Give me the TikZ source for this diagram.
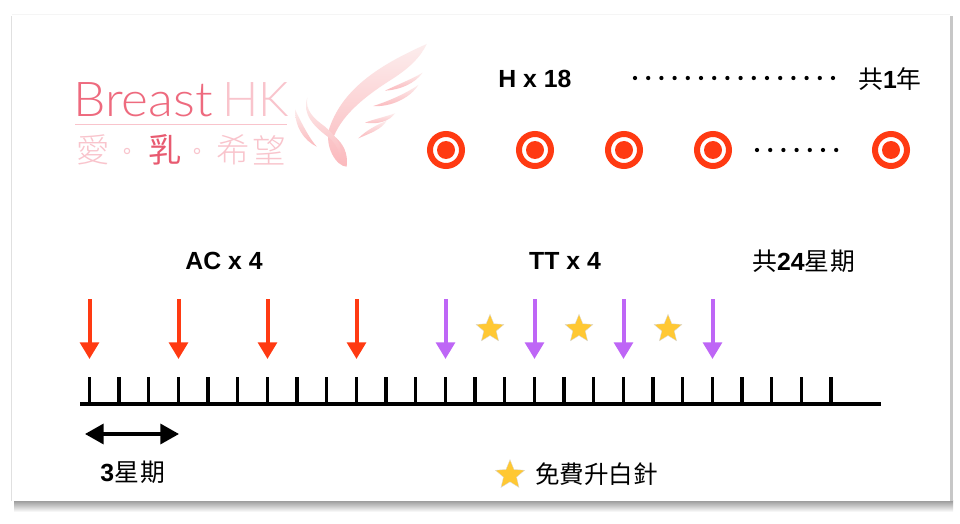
\documentclass[tikz,border=0pt]{standalone}
\usepackage{fontspec}
\setmainfont{Liberation Sans}
\newfontfamily\cjk{Noto Sans CJK TC}
\newfontfamily\cjkthin{Noto Sans CJK TC Light}
\newfontfamily\thinlat{Lato Light}
\usetikzlibrary{arrows.meta,shapes.geometric,calc}
\definecolor{redA}{HTML}{FF3A12}
\definecolor{purpA}{HTML}{BE66F6}
\definecolor{starA}{HTML}{FFC833}
\definecolor{pinkA}{HTML}{EE6A7E}
\definecolor{pinkB}{HTML}{F9C4CC}
\definecolor{pinkC}{HTML}{E85A70}
\definecolor{wingA}{HTML}{FCEDED}
\definecolor{wingB}{HTML}{FBB9BD}
\tikzset{
 lab/.style={inner sep=0pt,font=\bfseries\fontsize{18.6}{18.6}\selectfont},
 cjklab/.style={inner sep=0pt,font=\fontsize{18}{18}\selectfont},
 tick/.style={line width=2.5pt},
 redarrow/.style={draw=redA,line width=3pt,-{Triangle[width=14pt,length=12.5pt]}},
 purparrow/.style={redarrow,draw=purpA},
 starmark/.style={star,star points=5,star point ratio=2.25,fill=starA,draw=black!15,line width=.25pt,minimum size=22pt,inner sep=0pt},
 logocjk/.style={inner sep=0pt,text=pinkB,font=\cjkthin\fontsize{25}{25}\selectfont},
 wingfill/.style={top color=wingA,bottom color=wingB,draw=none},
 target/.style={circle,draw=redA,fill=white,line width=4.5pt,minimum size=24pt,inner sep=0pt},
 dotmark/.style={circle,fill=black,minimum size=3.2pt,inner sep=0pt},
}
\begin{document}
\begin{tikzpicture}[x=.75pt,y=-.75pt]
\useasboundingbox (0,0) rectangle (960,524);
% page and shadow
\shade[top color=black!42,bottom color=white] (14,500) rectangle (953,512);
\fill[black!22] (950,16) rectangle (953,501);
\fill[black!12] (11,16) rectangle (13,501);
\fill[white] (12,14) rectangle (950,501);
\draw[black!4,line width=.4pt] (12,14) -- (950,14);
% logo
\node[anchor=base west,inner sep=0pt,text=pinkA,xscale=1.07,font=\thinlat\fontsize{36}{36}\selectfont] (breast) at (73,117) {Breast};
\node[anchor=base west,inner sep=0pt,text=pinkB,font=\thinlat\fontsize{36}{36}\selectfont] (hk) at (222,117) {HK};
\fill[pinkB] (75,124.5) rectangle (287,125.5);
\node[logocjk] (l1) at (93,150) {愛};
\node[inner sep=0pt,circle,draw=pinkB,line width=.8pt,minimum size=4pt] (ld1) at (127,151) {};
\node[logocjk,text=pinkC,font=\cjk\fontsize{25}{25}\selectfont] (l2) at (165,150) {乳};
\node[inner sep=0pt,circle,draw=pinkB,line width=.8pt,minimum size=4pt] (ld2) at (197,151) {};
\node[logocjk] (l3) at (233,150) {希};
\node[logocjk] (l4) at (269,150) {望};
% wings, in zoom coordinates
\begin{scope}[shift={(50,30)},x=.25pt,y=-.25pt]
\shade[wingfill] (1130,42) .. controls (1000,100) and (880,170) .. (838,295)
 .. controls (822,350) and (860,410) .. (890,410)
 .. controls (895,370) and (880,340) .. (852,318)
 .. controls (880,250) and (950,195) .. (1030,145)
 .. controls (1075,115) and (1110,85) .. (1130,42) -- cycle;
\shade[wingfill] (1118,128) .. controls (1080,150) and (1040,165) .. (1005,182) .. controls (1050,180) and (1095,160) .. (1118,128) -- cycle;
\shade[wingfill] (1105,165) .. controls (1060,195) and (1010,215) .. (970,228) .. controls (1020,232) and (1080,205) .. (1105,165) -- cycle;
\shade[wingfill] (1035,250) .. controls (1000,262) and (970,268) .. (945,278) .. controls (985,285) and (1020,272) .. (1035,250) -- cycle;
\shade[wingfill] (1010,272) .. controls (980,285) and (950,300) .. (925,325) .. controls (960,310) and (995,298) .. (1010,272) -- cycle;
\shade[wingfill] (772,203) .. controls (755,250) and (790,290) .. (840,325) .. controls (860,345) and (870,365) .. (868,395)
 .. controls (885,355) and (860,320) .. (825,290) .. controls (790,265) and (765,240) .. (772,203) -- cycle;
\shade[wingfill] (735,238) .. controls (735,290) and (760,330) .. (800,350) .. controls (775,320) and (755,280) .. (735,238) -- cycle;
\end{scope}
% top row
\node[lab] (hlab) at (535,79) {H x 18};
\node[lab,anchor=east] (oneyear) at (922,79) {\cjk\mdseries 共\bfseries\rmfamily 1\cjk\mdseries 年};
\foreach \i in {0,...,15} \node[dotmark] (da\i) at ({635+\i*13.2},78) {};
\foreach \n/\x in {a/446,b/535,c/624,d/713,e/891} {
 \node[target] (t\n) at (\x,150) {};
 \node[circle,fill=redA,minimum size=13.5pt,inner sep=0pt] (i\n) at (\x,150) {};
}
\foreach \i in {0,...,6} \node[dotmark] (db\i) at ({757+\i*13.2},150) {};
% labels
\node[lab] (ac) at (224,261) {AC x 4};
\node[lab] (tt) at (565,261) {TT x 4};
\node[lab,anchor=west] (wk24) at (752,261) {\cjk\mdseries 共\bfseries\rmfamily 24\cjk\mdseries 星\kern1pt 期};
% timeline
\coordinate (axL) at (80,404);
\coordinate (axR) at (881,404);
\draw[line width=2.6pt] (axL) -- (axR);
\foreach \i in {0,...,25} {
 \coordinate (tk\i) at ({89.5+\i*29.66},377);
 \draw[tick] (tk\i) -- (tk\i |- axL);
}
% arrows
\foreach \n/\x in {1/89.5,2/178.5,3/267.5,4/356.5} {
 \coordinate (rs\n) at (\x,299); \coordinate (re\n) at (\x,359);
 \draw[redarrow] (rs\n) -- (re\n);
}
\foreach \n/\x in {1/445.5,2/534.5,3/623.5,4/712.5} {
 \coordinate (ps\n) at (\x,299); \coordinate (pe\n) at (\x,359);
 \draw[purparrow] (ps\n) -- (pe\n);
}
\foreach \n/\x in {1/490,2/579,3/668} \node[starmark] (s\n) at (\x,329) {};
% span
\coordinate (spL) at (85,434);
\coordinate (spR) at (179,434);
\draw[line width=2.6pt,{Triangle[width=15pt,length=14pt]}-{Triangle[width=15pt,length=14pt]}] (spL) -- (spR);
\node[lab,anchor=west] (wk3) at (100,472) {\rmfamily 3\cjk\mdseries 星\kern1pt 期};
% legend
\node[starmark,minimum size=23pt] (legstar) at (510,475) {};
\node[cjklab,anchor=west,font=\cjk\fontsize{18.4}{18}\selectfont] (leg) at (535,474) {免費升白針};
\end{tikzpicture}
\end{document}
